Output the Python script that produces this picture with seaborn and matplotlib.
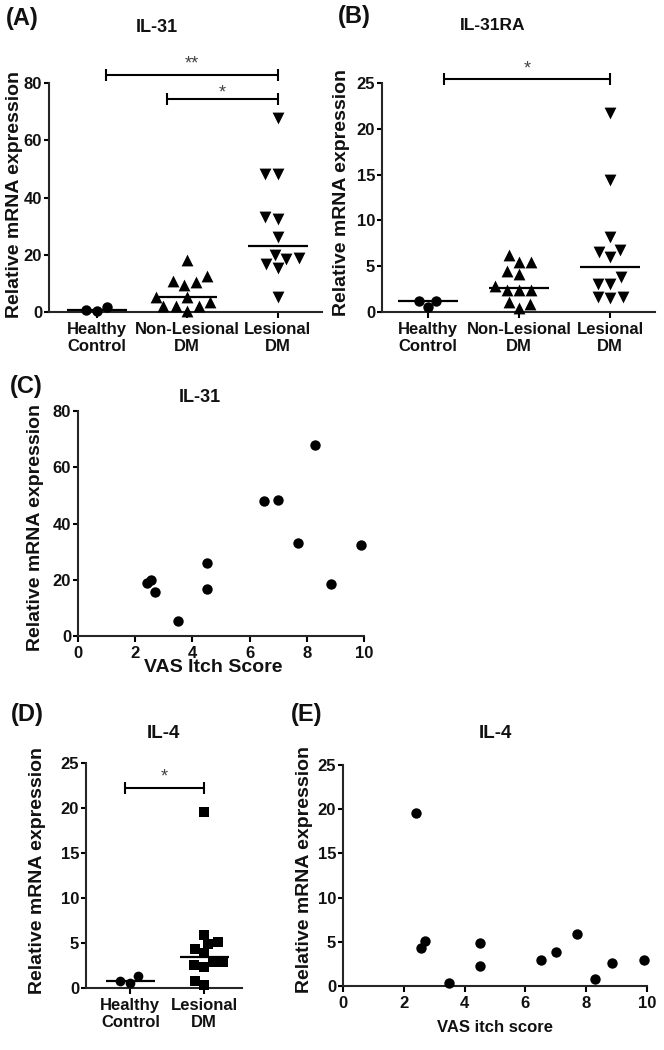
import numpy as np
import pandas as pd
import matplotlib
matplotlib.use("Agg")
import matplotlib.pyplot as plt
import seaborn as sns

# ---------------- data ----------------
groups3 = ["Healthy\nControl", "Non-Lesional\nDM", "Lesional\nDM"]
groups2 = ["Healthy\nControl", "Lesional\nDM"]

vas_score = [2.4, 2.55, 2.7, 3.5, 4.5, 4.5, 6.5, 7.0, 7.7, 8.3, 8.85, 9.9]
il31_lesional = [18.7, 19.9, 15.5, 5.3, 26.1, 16.6, 48.1, 48.3, 33.1, 67.8, 18.5, 32.5]
il4_lesional = [19.6, 4.3, 5.1, 0.3, 4.9, 2.3, 2.9, 3.9, 5.9, 0.8, 2.6, 2.9]

il31_healthy = [1.9, 0.5, 0.8]
il31_nonlesional = [18.1, 12.5, 10.5, 9.3, 10.7, 5.3, 5.3, 3.5, 2.0, 2.0, 2.0, 0.5]

il31ra_healthy = [1.15, 0.5, 1.2]
il31ra_nonlesional = [6.2, 5.5, 5.5, 4.2, 4.5, 2.8, 2.4, 2.4, 2.4, 1.1, 0.9, 0.4]
il31ra_lesional = [21.7, 14.4, 8.2, 6.75, 6.6, 6.0, 3.8, 3.1, 3.1, 1.6, 1.5, 1.6]

il4_healthy = [1.35, 0.6, 0.8]

yticks_il31 = [0, 20, 40, 60, 80]
yticks_small = [0, 5, 10, 15, 20, 25]
xticks_vas = [0, 2, 4, 6, 8, 10]

# ---------------- style ----------------
sns.set_style("ticks")
plt.rcParams["font.family"] = ["Liberation Sans", "DejaVu Sans"]
plt.rcParams["axes.linewidth"] = 1.5
plt.rcParams["xtick.major.width"] = 1.5
plt.rcParams["ytick.major.width"] = 1.5
plt.rcParams["text.color"] = "#111111"
plt.rcParams["axes.labelcolor"] = "#111111"
plt.rcParams["xtick.color"] = "black"
plt.rcParams["ytick.color"] = "black"
plt.rcParams["xtick.labelcolor"] = "#111111"
plt.rcParams["ytick.labelcolor"] = "#111111"

W, H = 664, 1050
fig = plt.figure(figsize=(W / 100, H / 100), dpi=100)


def rect(l, r, t, b):
    return [l / W, 1 - b / H, (r - l) / W, (b - t) / H]


def fig_text(x, y, s, size, weight="bold"):
    fig.text(x / W, 1 - y / H, s, ha="center", va="center",
             fontsize=size, fontweight=weight)


def style_axis(ax, ylabel, ylab_xy, xlabel=None, xlab_xy=None, xlab_size=12):
    sns.despine(ax=ax)
    ax.tick_params(axis="x", length=4.5, pad=2.5, labelsize=12)
    ax.tick_params(axis="y", length=3.5, pad=1.5, labelsize=12)
    for lab in ax.get_xticklabels() + ax.get_yticklabels():
        lab.set_fontweight("bold")
    ax.set_ylabel(ylabel, fontsize=14, fontweight="bold", va="center")
    ax.yaxis.set_label_coords(*ylab_xy)
    if xlabel is not None:
        ax.set_xlabel(xlabel, fontsize=xlab_size, fontweight="bold", va="center")
        ax.xaxis.set_label_coords(*xlab_xy)
    else:
        ax.set_xlabel("")


def sig_bar(ax, x0, x1, y, cap, text, offset_pt):
    kw = dict(color="black", lw=1.5, clip_on=False, solid_capstyle="butt")
    ax.plot([x0, x1], [y, y], **kw)
    ax.plot([x0, x0], [y - cap, y + cap], **kw)
    ax.plot([x1, x1], [y - cap, y + cap], **kw)
    ax.annotate(text, xy=((x0 + x1) / 2, y), xytext=(0, offset_pt),
                textcoords="offset points", ha="center", va="baseline",
                fontsize=13, color="#444444", annotation_clip=False)


def cat_panel(r, groups, values, markers, sizes, xlim, ylim, yticks):
    ax = fig.add_axes(r)
    for g, v, m, s in zip(groups, values, markers, sizes):
        df = pd.DataFrame({"group": [g] * len(v), "value": v})
        sns.swarmplot(data=df, x="group", y="value", order=groups, marker=m,
                      color="black", size=s, linewidth=0, ax=ax,
                      clip_on=False, zorder=3, warn_thresh=1.0)
    for i, v in enumerate(values):
        ax.hlines(np.median(v), i - 0.33, i + 0.33, color="black", lw=1.6,
                  zorder=4, clip_on=False)
    ax.set_xlim(*xlim)
    ax.set_ylim(*ylim)
    ax.set_yticks(yticks)
    ax.set_xticks(range(len(groups)))
    ax.set_xticklabels(groups, linespacing=1.15)
    return ax


# ---------------- (A) IL-31 ----------------
axA = cat_panel(rect(49, 322, 83, 312), groups3,
                [il31_healthy, il31_nonlesional, il31_lesional],
                ["o", "^", "v"], [7.5, 8.5, 8.5], (-0.53, 2.49), (0, 80), yticks_il31)
style_axis(axA, "Relative mRNA expression", (-0.127, 0.515))
sig_bar(axA, 0.1, 2.0, 82.9, 2.1, "**", 4.5)
sig_bar(axA, 0.78, 2.0, 74.5, 2.1, "*", 1.0)

# ---------------- (B) IL-31RA ----------------
axB = cat_panel(rect(382, 655, 83, 312), groups3,
                [il31ra_healthy, il31ra_nonlesional, il31ra_lesional],
                ["o", "^", "v"], [7.5, 8.5, 8.5], (-0.5, 2.49), (0, 25), yticks_small)
style_axis(axB, "Relative mRNA expression", (-0.147, 0.524))
sig_bar(axB, 0.18, 2.0, 25.4, 0.65, "*", 4.5)

# ---------------- (C) IL-31 vs VAS ----------------
axC = fig.add_axes(rect(78, 364, 411, 636))
sns.scatterplot(x=vas_score, y=il31_lesional, marker="o", color="black", s=56,
                linewidth=0, ax=axC, clip_on=False, zorder=3)
axC.set_xlim(0, 10)
axC.set_ylim(0, 80)
axC.set_xticks(xticks_vas)
axC.set_yticks(yticks_il31)
style_axis(axC, "Relative mRNA expression", (-0.150, 0.484),
           "VAS Itch Score", (0.472, -0.142), xlab_size=14)

# ---------------- (D) IL-4 ----------------
axD = cat_panel(rect(86, 242, 763, 988), groups2,
                [il4_healthy, il4_lesional],
                ["o", "s"], [7.0, 7.0], (-0.6, 1.51), (0, 25), yticks_small)
style_axis(axD, "Relative mRNA expression", (-0.308, 0.524))
sig_bar(axD, -0.07, 1.0, 22.2, 0.67, "*", 4.5)

# ---------------- (E) IL-4 vs VAS ----------------
axE = fig.add_axes(rect(343, 647, 765, 986))
sns.scatterplot(x=vas_score, y=il4_lesional, marker="o", color="black", s=56,
                linewidth=0, ax=axE, clip_on=False, zorder=3)
axE.set_xlim(0, 10)
axE.set_ylim(0, 25)
axE.set_xticks(xticks_vas)
axE.set_yticks(yticks_small)
style_axis(axE, "Relative mRNA expression", (-0.128, 0.529),
           "VAS itch score", (0.5, -0.19), xlab_size=12)

# ---------------- titles and panel letters ----------------
fig_text(157, 28, "IL-31", 13)
fig_text(493, 25, "IL-31RA", 12.5)
fig_text(200, 398, "IL-31", 13)
fig_text(163, 733, "IL-4", 13.5)
fig_text(495, 733, "IL-4", 13.5)

fig_text(22, 18, "(A)", 17)
fig_text(354, 16, "(B)", 17)
fig_text(26, 387, "(C)", 17)
fig_text(27, 715, "(D)", 17)
fig_text(307, 715, "(E)", 17)

fig.savefig("out.png", dpi=100, facecolor="white")
